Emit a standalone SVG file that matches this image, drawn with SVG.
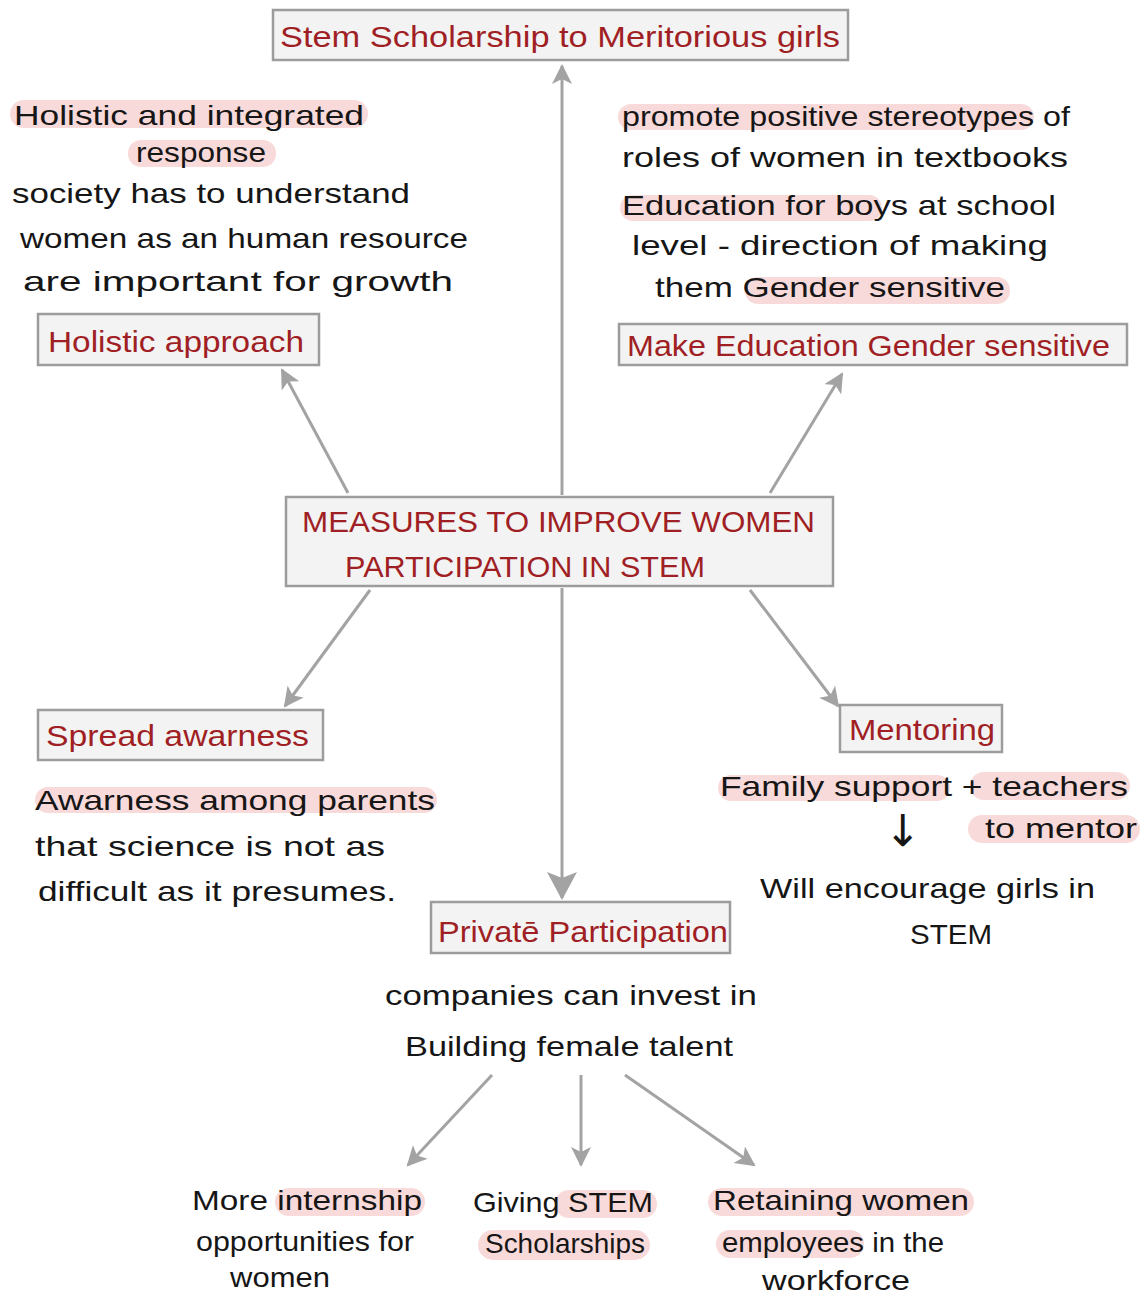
<svg xmlns="http://www.w3.org/2000/svg" width="1145" height="1295" viewBox="0 0 1145 1295">
  <style>
    .box { fill: #f3f3f3; stroke: #9c9c9c; stroke-width: 2.5; }
    .title { font-family: "Liberation Sans", "DejaVu Sans", sans-serif; font-size: 29px; fill: #a01f24; }
    .note { font-family: "Liberation Sans", "DejaVu Sans", sans-serif; font-size: 28px; fill: #161616; }
    .hl { fill: #f9dada; }
    .link { stroke: #a3a3a3; stroke-width: 3; fill: none; }
  </style>
  <defs>
    <marker id="arrow" markerUnits="userSpaceOnUse" markerWidth="22" markerHeight="22" refX="18" refY="10" orient="auto">
      <path d="M0,0 L20,10 L0,20 L5,10 Z" fill="#a3a3a3"/>
    </marker>
    <marker id="arrow-big" markerUnits="userSpaceOnUse" markerWidth="32" markerHeight="32" refX="26" refY="15" orient="auto">
      <path d="M0,0 L28,15 L0,30 L6,15 Z" fill="#a3a3a3"/>
    </marker>
  </defs>

  <rect width="1145" height="1295" fill="#ffffff"/>

  <!-- connectors -->
  <g id="connectors">
    <line class="link" x1="562" y1="495" x2="562" y2="66" marker-end="url(#arrow)"/>
    <line class="link" x1="348" y1="493" x2="282" y2="370" marker-end="url(#arrow)"/>
    <line class="link" x1="770" y1="493" x2="842" y2="374" marker-end="url(#arrow)"/>
    <line class="link" x1="370" y1="590" x2="285" y2="706" marker-end="url(#arrow)"/>
    <line class="link" x1="750" y1="590" x2="838" y2="706" marker-end="url(#arrow)"/>
    <line class="link" x1="562" y1="588" x2="562" y2="898" marker-end="url(#arrow-big)"/>
    <line class="link" x1="492" y1="1075" x2="408" y2="1165" marker-end="url(#arrow)"/>
    <line class="link" x1="581" y1="1075" x2="581" y2="1165" marker-end="url(#arrow)"/>
    <line class="link" x1="625" y1="1075" x2="754" y2="1165" marker-end="url(#arrow)"/>
  </g>

  <!-- central topic -->
  <g id="center">
    <rect class="box" x="286" y="497" width="547" height="89"/>
    <text class="title" x="302" y="532" textLength="513" lengthAdjust="spacingAndGlyphs">MEASURES TO IMPROVE WOMEN</text>
    <text class="title" x="345" y="577" textLength="360" lengthAdjust="spacingAndGlyphs">PARTICIPATION IN STEM</text>
  </g>

  <!-- scholarship -->
  <g id="scholarship">
    <rect class="box" x="273" y="10" width="575" height="50"/>
    <text class="title" x="280" y="47" textLength="560" lengthAdjust="spacingAndGlyphs">Stem Scholarship to Meritorious girls</text>
  </g>

  <!-- holistic approach -->
  <g id="holistic">
    <rect class="hl" x="10" y="100" width="358" height="28" rx="14"/>
    <rect class="hl" x="128" y="140" width="148" height="27" rx="13"/>
    <text class="note" x="14" y="125" textLength="350" lengthAdjust="spacingAndGlyphs">Holistic and integrated</text>
    <text class="note" x="136" y="162" textLength="130" lengthAdjust="spacingAndGlyphs">response</text>
    <text class="note" x="12" y="203" textLength="398" lengthAdjust="spacingAndGlyphs">society has to understand</text>
    <text class="note" x="20" y="248" textLength="448" lengthAdjust="spacingAndGlyphs">women as an human resource</text>
    <text class="note" x="23" y="291" textLength="430" lengthAdjust="spacingAndGlyphs">are important for growth</text>
    <rect class="box" x="38" y="314" width="281" height="51"/>
    <text class="title" x="48" y="352" textLength="256" lengthAdjust="spacingAndGlyphs">Holistic approach</text>
  </g>

  <!-- gender sensitive education -->
  <g id="gender-education">
    <rect class="hl" x="618" y="104" width="416" height="26" rx="13"/>
    <rect class="hl" x="620" y="195" width="262" height="26" rx="13"/>
    <rect class="hl" x="745" y="277" width="265" height="27" rx="13"/>
    <text class="note" x="622" y="126" textLength="448" lengthAdjust="spacingAndGlyphs">promote positive stereotypes of</text>
    <text class="note" x="622" y="167" textLength="446" lengthAdjust="spacingAndGlyphs">roles of women in textbooks</text>
    <text class="note" x="622" y="215" textLength="434" lengthAdjust="spacingAndGlyphs">Education for boys at school</text>
    <text class="note" x="632" y="255" textLength="416" lengthAdjust="spacingAndGlyphs">level - direction of making</text>
    <text class="note" x="655" y="297" textLength="350" lengthAdjust="spacingAndGlyphs">them  Gender sensitive</text>
    <rect class="box" x="619" y="324" width="508" height="41"/>
    <text class="title" x="627" y="356" textLength="483" lengthAdjust="spacingAndGlyphs">Make Education Gender sensitive</text>
  </g>

  <!-- spread awareness -->
  <g id="awareness">
    <rect class="box" x="38" y="710" width="285" height="50"/>
    <text class="title" x="46" y="746" textLength="263" lengthAdjust="spacingAndGlyphs">Spread awarness</text>
    <rect class="hl" x="35" y="787" width="402" height="26" rx="13"/>
    <text class="note" x="35" y="810" textLength="400" lengthAdjust="spacingAndGlyphs">Awarness among parents</text>
    <text class="note" x="35" y="856" textLength="350" lengthAdjust="spacingAndGlyphs">that science is not as</text>
    <text class="note" x="38" y="901" textLength="358" lengthAdjust="spacingAndGlyphs">difficult as it presumes.</text>
  </g>

  <!-- mentoring -->
  <g id="mentoring">
    <rect class="box" x="840" y="705" width="162" height="47"/>
    <text class="title" x="849" y="740" textLength="146" lengthAdjust="spacingAndGlyphs">Mentoring</text>
    <rect class="hl" x="718" y="775" width="232" height="26" rx="13"/>
    <rect class="hl" x="970" y="772" width="160" height="28" rx="14"/>
    <rect class="hl" x="968" y="815" width="172" height="28" rx="14"/>
    <text class="note" x="720" y="796" textLength="408" lengthAdjust="spacingAndGlyphs">Family support + teachers</text>
    <text class="note" x="985" y="838" textLength="152" lengthAdjust="spacingAndGlyphs">to mentor</text>
    <text class="note" x="903" y="846" text-anchor="middle" style="font-family: 'DejaVu Sans', sans-serif; font-size: 44px;">↓</text>
    <text class="note" x="760" y="898" textLength="335" lengthAdjust="spacingAndGlyphs">Will encourage girls in</text>
    <text class="note" x="910" y="944" textLength="82" lengthAdjust="spacingAndGlyphs">STEM</text>
  </g>

  <!-- private participation -->
  <g id="private">
    <rect class="box" x="431" y="902" width="299" height="51"/>
    <text class="title" x="438" y="942" textLength="290" lengthAdjust="spacingAndGlyphs">Privatē Participation</text>
    <text class="note" x="385" y="1005" textLength="372" lengthAdjust="spacingAndGlyphs">companies can invest in</text>
    <text class="note" x="405" y="1056" textLength="328" lengthAdjust="spacingAndGlyphs">Building female talent</text>
  </g>

  <!-- outcomes of private participation -->
  <g id="internships">
    <rect class="hl" x="275" y="1188" width="150" height="28" rx="14"/>
    <text class="note" x="192" y="1210" textLength="230" lengthAdjust="spacingAndGlyphs">More internship</text>
    <text class="note" x="196" y="1251" textLength="218" lengthAdjust="spacingAndGlyphs">opportunities for</text>
    <text class="note" x="230" y="1287" textLength="100" lengthAdjust="spacingAndGlyphs">women</text>
  </g>
  <g id="stem-scholarships">
    <rect class="hl" x="555" y="1190" width="102" height="28" rx="14"/>
    <rect class="hl" x="478" y="1230" width="172" height="30" rx="15"/>
    <text class="note" x="473" y="1212" textLength="180" lengthAdjust="spacingAndGlyphs">Giving STEM</text>
    <text class="note" x="485" y="1253" textLength="160" lengthAdjust="spacingAndGlyphs">Scholarships</text>
  </g>
  <g id="retaining">
    <rect class="hl" x="708" y="1188" width="266" height="28" rx="14"/>
    <rect class="hl" x="716" y="1230" width="148" height="28" rx="14"/>
    <text class="note" x="713" y="1210" textLength="256" lengthAdjust="spacingAndGlyphs">Retaining women</text>
    <text class="note" x="722" y="1252" textLength="222" lengthAdjust="spacingAndGlyphs">employees in the</text>
    <text class="note" x="762" y="1290" textLength="148" lengthAdjust="spacingAndGlyphs">workforce</text>
  </g>
</svg>
